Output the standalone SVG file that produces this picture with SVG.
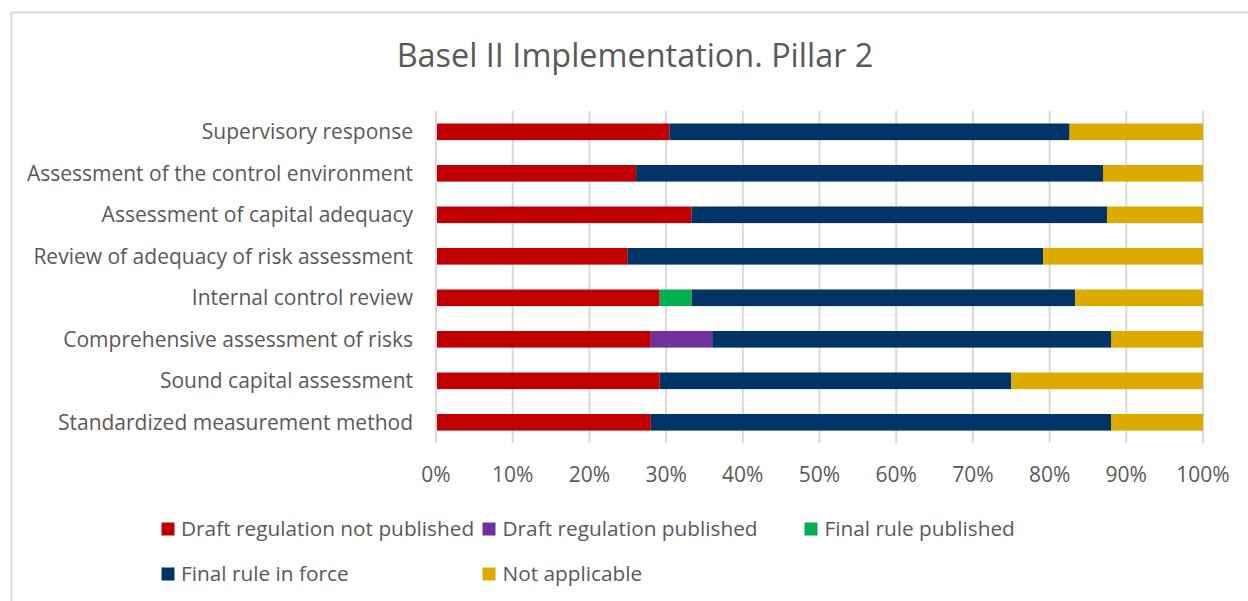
<svg xmlns="http://www.w3.org/2000/svg" width="1248" height="601" viewBox="0 0 1248 601">
<style>
text{font-family:"Open Sans","DejaVu Sans",sans-serif;fill:#595959}
.title{font-size:32.4px}
.cat{font-size:21px;text-anchor:end}
.ax{font-size:21px;text-anchor:middle}
.lg{font-size:20.8px}
.grid{stroke:#d9d9d9;stroke-width:2}
.r{fill:#C00000}.p{fill:#7030A0}.g{fill:#00B050}.n{fill:#003366}.y{fill:#DDAA00}
</style>
<rect x="0" y="0" width="1248" height="601" fill="#fff"/>
<path d="M11.5 601V12.5H1248" fill="none" stroke="#d9d9d9" stroke-width="2"/>
<text class="title" x="635" y="67" text-anchor="middle">Basel II Implementation. Pillar 2</text>
<g id="gridlines">
<line class="grid" x1="436" y1="111" x2="436" y2="443"/>
<line class="grid" x1="512.7" y1="111" x2="512.7" y2="443"/>
<line class="grid" x1="589.4" y1="111" x2="589.4" y2="443"/>
<line class="grid" x1="666.1" y1="111" x2="666.1" y2="443"/>
<line class="grid" x1="742.8" y1="111" x2="742.8" y2="443"/>
<line class="grid" x1="819.5" y1="111" x2="819.5" y2="443"/>
<line class="grid" x1="896.2" y1="111" x2="896.2" y2="443"/>
<line class="grid" x1="972.9" y1="111" x2="972.9" y2="443"/>
<line class="grid" x1="1049.6" y1="111" x2="1049.6" y2="443"/>
<line class="grid" x1="1126.3" y1="111" x2="1126.3" y2="443"/>
<line class="grid" x1="1203" y1="111" x2="1203" y2="443"/>
</g>
<g id="axis-labels">
<text class="ax" x="436" y="482">0%</text>
<text class="ax" x="512.7" y="482">10%</text>
<text class="ax" x="589.4" y="482">20%</text>
<text class="ax" x="666.1" y="482">30%</text>
<text class="ax" x="742.8" y="482">40%</text>
<text class="ax" x="819.5" y="482">50%</text>
<text class="ax" x="896.2" y="482">60%</text>
<text class="ax" x="972.9" y="482">70%</text>
<text class="ax" x="1049.6" y="482">80%</text>
<text class="ax" x="1126.3" y="482">90%</text>
<text class="ax" x="1203" y="482">100%</text>
</g>
<g id="row-supervisory-response">
<text class="cat" x="413" y="139">Supervisory response</text>
<rect class="r" x="437" y="123.5" width="232.4" height="16.6"/>
<rect class="n" x="669.4" y="123.5" width="400.2" height="16.6"/>
<rect class="y" x="1069.6" y="123.5" width="133.4" height="16.6"/>
</g>
<g id="row-control-environment">
<text class="cat" x="413" y="180.5">Assessment of the control environment</text>
<rect class="r" x="437" y="165" width="199.1" height="16.6"/>
<rect class="n" x="636.1" y="165" width="466.9" height="16.6"/>
<rect class="y" x="1103" y="165" width="100" height="16.6"/>
</g>
<g id="row-capital-adequacy">
<text class="cat" x="413" y="222">Assessment of capital adequacy</text>
<rect class="r" x="437" y="206.5" width="254.7" height="16.6"/>
<rect class="n" x="691.7" y="206.5" width="415.4" height="16.6"/>
<rect class="y" x="1107.1" y="206.5" width="95.9" height="16.6"/>
</g>
<g id="row-risk-assessment">
<text class="cat" x="413" y="263.5">Review of adequacy of risk assessment</text>
<rect class="r" x="437" y="248" width="190.8" height="16.6"/>
<rect class="n" x="627.8" y="248" width="415.4" height="16.6"/>
<rect class="y" x="1043.2" y="248" width="159.8" height="16.6"/>
</g>
<g id="row-internal-control">
<text class="cat" x="413" y="305">Internal control review</text>
<rect class="r" x="437" y="289.5" width="222.7" height="16.6"/>
<rect class="g" x="659.7" y="289.5" width="32" height="16.6"/>
<rect class="n" x="691.7" y="289.5" width="383.5" height="16.6"/>
<rect class="y" x="1075.2" y="289.5" width="127.8" height="16.6"/>
</g>
<g id="row-comprehensive-risks">
<text class="cat" x="413" y="346.5">Comprehensive assessment of risks</text>
<rect class="r" x="437" y="331" width="213.8" height="16.6"/>
<rect class="p" x="650.8" y="331" width="61.4" height="16.6"/>
<rect class="n" x="712.2" y="331" width="398.8" height="16.6"/>
<rect class="y" x="1111" y="331" width="92" height="16.6"/>
</g>
<g id="row-sound-capital">
<text class="cat" x="413" y="388">Sound capital assessment</text>
<rect class="r" x="437" y="372.5" width="222.7" height="16.6"/>
<rect class="n" x="659.7" y="372.5" width="351.6" height="16.6"/>
<rect class="y" x="1011.3" y="372.5" width="191.7" height="16.6"/>
</g>
<g id="row-standardized-method">
<text class="cat" x="413" y="429.5">Standardized measurement method</text>
<rect class="r" x="437" y="414" width="213.8" height="16.6"/>
<rect class="n" x="650.8" y="414" width="460.2" height="16.6"/>
<rect class="y" x="1111" y="414" width="92" height="16.6"/>
</g>
<g id="legend">
<rect class="r" x="161.5" y="522.5" width="13" height="13"/>
<text class="lg" x="181" y="536">Draft regulation not published</text>
<rect class="p" x="482.5" y="522.5" width="13" height="13"/>
<text class="lg" x="502.5" y="536">Draft regulation published</text>
<rect class="g" x="804.5" y="522.5" width="13" height="13"/>
<text class="lg" x="824.5" y="536">Final rule published</text>
<rect class="n" x="161.5" y="567.5" width="13" height="13"/>
<text class="lg" x="181" y="581">Final rule in force</text>
<rect class="y" x="482.5" y="567.5" width="13" height="13"/>
<text class="lg" x="502.5" y="581">Not applicable</text>
</g>
</svg>
